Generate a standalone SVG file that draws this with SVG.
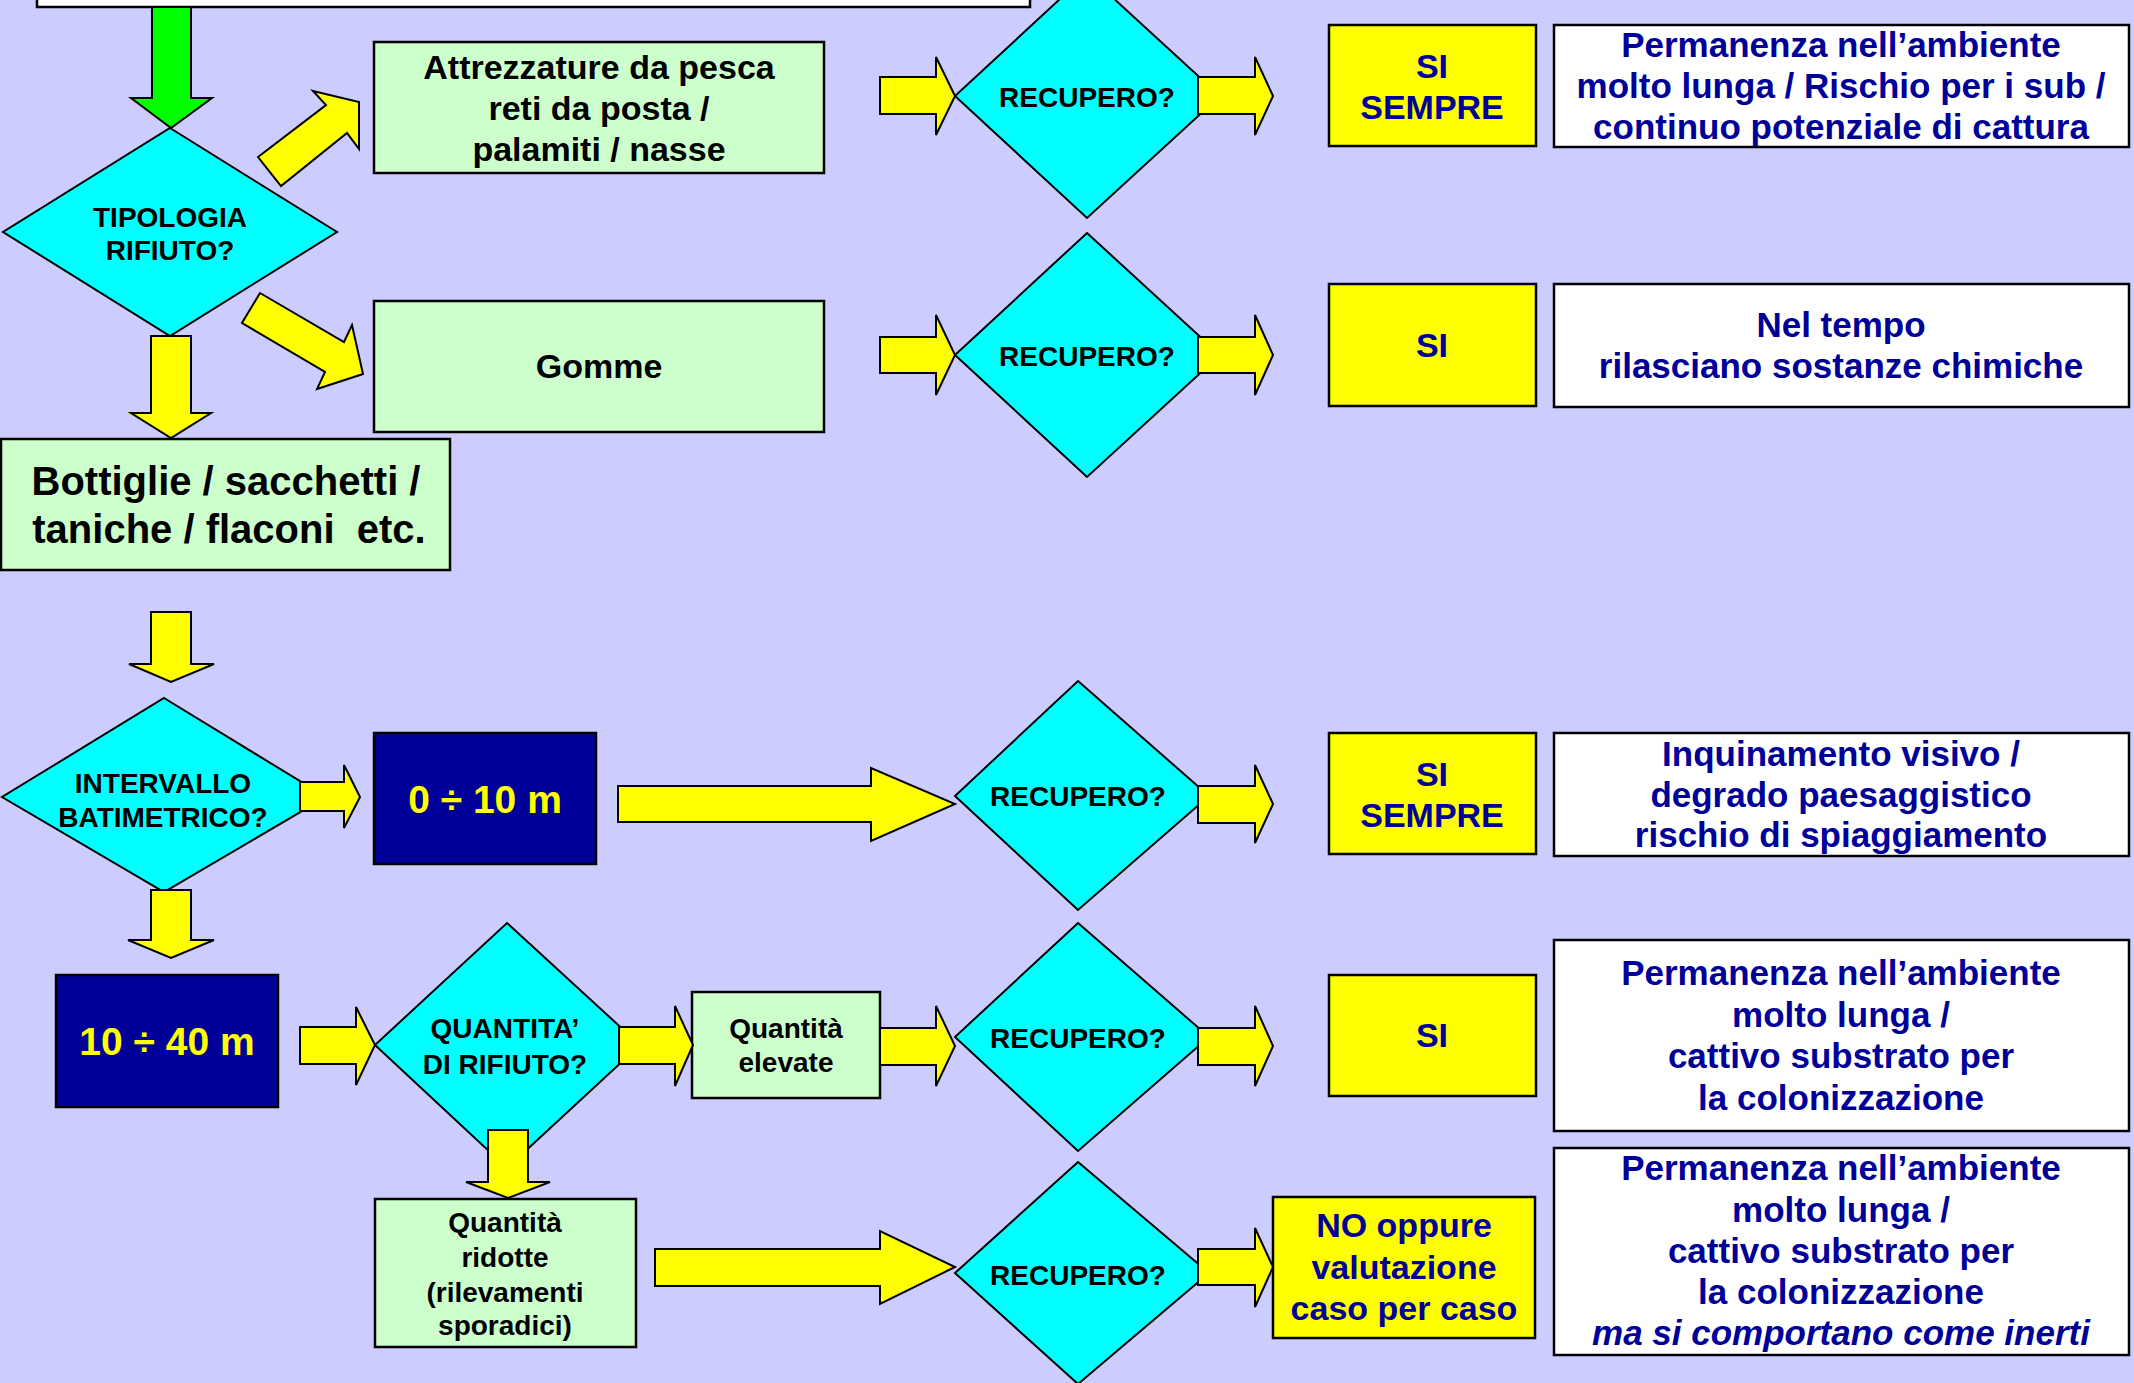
<svg xmlns="http://www.w3.org/2000/svg" width="2134" height="1383" viewBox="0 0 2134 1383">
<style>
.bg{fill:#CCCCFF}
.g{fill:#CCFFCC;stroke:#000;stroke-width:2.5}
.w{fill:#FFFFFF;stroke:#000;stroke-width:2.5}
.y{fill:#FFFF00;stroke:#000;stroke-width:2.5}
.n{fill:#000099;stroke:#000;stroke-width:2.5}
.d{fill:#00FFFF;stroke:#000;stroke-width:2}
.ay{fill:#FFFF00;stroke:#000;stroke-width:2;stroke-linejoin:miter}
.ag{fill:#00FF00;stroke:#000;stroke-width:2}
text{font-family:"Liberation Sans",Arial,Helvetica,sans-serif;font-weight:bold;text-anchor:middle}
.k{fill:#000}
.b{fill:#000099}
.yt{fill:#FFFF00}
.f28{font-size:28px}
.f34{font-size:34px}
.f35{font-size:35px}
.f40{font-size:40px}
.f39{font-size:39px}
</style>
<rect class="bg" x="0" y="0" width="2134" height="1383"/>

<g id="top-box"><rect class="w" x="37" y="-20" width="993" height="27"/></g>

<g id="tipologia"><polygon class="d" points="170,128 337,232 170,336 3,232"/>
<text class="k f28" x="170" y="227">TIPOLOGIA</text><text class="k f28" x="170" y="260">RIFIUTO?</text></g>

<g id="attrezzature"><rect class="g" x="374" y="42" width="450" height="131"/>
<text class="k f34" x="599" y="79">Attrezzature da pesca</text>
<text class="k f34" x="599" y="120">reti da posta /</text>
<text class="k f34" x="599" y="161">palamiti / nasse</text></g>

<g id="gomme"><rect class="g" x="374" y="301" width="450" height="131"/>
<text class="k f34" x="599" y="378">Gomme</text></g>

<g id="bottiglie"><rect class="g" x="1" y="439" width="449" height="131"/>
<text class="k f40" x="226" y="495">Bottiglie / sacchetti /</text>
<text class="k f40" x="229" y="543" style="white-space:pre">taniche / flaconi  etc.</text></g>

<g id="intervallo"><polygon class="d" points="164,698 326,797 164,892 2,797"/>
<text class="k f28" x="163" y="793">INTERVALLO</text><text class="k f28" x="163" y="827">BATIMETRICO?</text></g>

<g id="r0-10"><rect class="n" x="374" y="733" width="222" height="131"/>
<text class="yt f39" x="485" y="813">0 ÷ 10 m</text></g>

<g id="r10-40"><rect class="n" x="56" y="975" width="222" height="132"/>
<text class="yt f39" x="167" y="1055">10 ÷ 40 m</text></g>

<g id="quantita"><polygon class="d" points="507,923 640,1045 507,1168 375,1045"/>
<text class="k f28" x="505" y="1038">QUANTITA’</text><text class="k f28" x="505" y="1074">DI RIFIUTO?</text></g>

<g id="elevate"><rect class="g" x="692" y="992" width="188" height="106"/>
<text class="k f28" x="786" y="1038">Quantità</text><text class="k f28" x="786" y="1072">elevate</text></g>

<g id="ridotte"><rect class="g" x="375" y="1199" width="261" height="148"/>
<text class="k f28" x="505" y="1232">Quantità</text><text class="k f28" x="505" y="1267">ridotte</text>
<text class="k f28" x="505" y="1302">(rilevamenti</text><text class="k f28" x="505" y="1335">sporadici)</text></g>

<g id="recupero1"><polygon class="d" points="1087,-26 1220,96 1087,218 955,96"/>
<text class="k f28" x="1087" y="107">RECUPERO?</text></g>
<g id="recupero2"><polygon class="d" points="1087,233 1220,355 1087,477 955,355"/>
<text class="k f28" x="1087" y="366">RECUPERO?</text></g>
<g id="recupero3"><polygon class="d" points="1078,681 1209,796 1078,910 955,796"/>
<text class="k f28" x="1078" y="806">RECUPERO?</text></g>
<g id="recupero4"><polygon class="d" points="1078,923 1209,1037 1078,1151 955,1037"/>
<text class="k f28" x="1078" y="1048">RECUPERO?</text></g>
<g id="recupero5"><polygon class="d" points="1078,1162 1209,1273 1078,1384 955,1273"/>
<text class="k f28" x="1078" y="1285">RECUPERO?</text></g>

<g id="si1"><rect class="y" x="1329" y="25" width="207" height="121"/>
<text class="b f34" x="1432" y="78">SI</text><text class="b f34" x="1432" y="119">SEMPRE</text></g>
<g id="si2"><rect class="y" x="1329" y="284" width="207" height="122"/>
<text class="b f34" x="1432" y="357">SI</text></g>
<g id="si3"><rect class="y" x="1329" y="733" width="207" height="121"/>
<text class="b f34" x="1432" y="786">SI</text><text class="b f34" x="1432" y="827">SEMPRE</text></g>
<g id="si4"><rect class="y" x="1329" y="975" width="207" height="121"/>
<text class="b f34" x="1432" y="1047">SI</text></g>
<g id="no"><rect class="y" x="1273" y="1197" width="262" height="141"/>
<text class="b f34" x="1404" y="1237">NO oppure</text><text class="b f34" x="1404" y="1279">valutazione</text><text class="b f34" x="1404" y="1320">caso per caso</text></g>

<g id="note1"><rect class="w" x="1554" y="25" width="575" height="122"/>
<text class="b f35" x="1841" y="57">Permanenza nell’ambiente</text>
<text class="b f35" x="1841" y="98">molto lunga / Rischio per i sub /</text>
<text class="b f35" x="1841" y="139">continuo potenziale di cattura</text></g>
<g id="note2"><rect class="w" x="1554" y="284" width="575" height="123"/>
<text class="b f35" x="1841" y="337">Nel tempo</text>
<text class="b f35" x="1841" y="378">rilasciano sostanze chimiche</text></g>
<g id="note3"><rect class="w" x="1554" y="733" width="575" height="123"/>
<text class="b f35" x="1841" y="766">Inquinamento visivo /</text>
<text class="b f35" x="1841" y="807">degrado paesaggistico</text>
<text class="b f35" x="1841" y="847">rischio di spiaggiamento</text></g>
<g id="note4"><rect class="w" x="1554" y="940" width="575" height="191"/>
<text class="b f35" x="1841" y="985">Permanenza nell’ambiente</text>
<text class="b f35" x="1841" y="1027">molto lunga /</text>
<text class="b f35" x="1841" y="1068">cattivo substrato per</text>
<text class="b f35" x="1841" y="1110">la colonizzazione</text></g>
<g id="note5"><rect class="w" x="1554" y="1148" width="575" height="207"/>
<text class="b f35" x="1841" y="1180">Permanenza nell’ambiente</text>
<text class="b f35" x="1841" y="1222">molto lunga /</text>
<text class="b f35" x="1841" y="1263">cattivo substrato per</text>
<text class="b f35" x="1841" y="1304">la colonizzazione</text>
<text class="b f35" x="1841" y="1345" font-style="italic">ma si comportano come inerti</text></g>

<g id="connectors">
<polygon class="ag" points="152,7 191,7 191,98 212,98 171,128 131,98 152,98"/>
<polygon class="ay" points="258,157 326,105 313,91 359,102 359,149 347,133 281,186"/>
<polygon class="ay" points="260,293 344,342 352,325 363,374 317,389 325,372 242,323"/>
<polygon class="ay" points="151,336 191,336 191,413 211,413 171,438 131,413 151,413"/>
<polygon class="ay" points="151,612 191,612 191,664 214,664 171,682 129,664 151,664"/>
<polygon class="ay" points="151,890 191,890 191,940 214,940 171,958 128,940 151,940"/>
<polygon class="ay" points="300,782 344,782 344,765 360,797 344,828 344,811 300,811"/>
<polygon class="ay" points="618,786 871,786 871,768 955,804 871,841 871,822 618,822"/>
<polygon class="ay" points="880,77 936,77 936,57 955,96 936,135 936,114 880,114"/>
<polygon class="ay" points="1198,77 1255,77 1255,57 1273,96 1255,135 1255,114 1198,114"/>
<polygon class="ay" points="880,337 936,337 936,315 955,355 936,395 936,373 880,373"/>
<polygon class="ay" points="1198,337 1255,337 1255,315 1273,355 1255,395 1255,373 1198,373"/>
<polygon class="ay" points="1198,786 1255,786 1255,765 1273,804 1255,843 1255,823 1198,823"/>
<polygon class="ay" points="300,1027 356,1027 356,1007 375,1045 356,1085 356,1064 300,1064"/>
<polygon class="ay" points="619,1027 675,1027 675,1006 693,1045 675,1086 675,1064 619,1064"/>
<polygon class="ay" points="880,1028 936,1028 936,1006 955,1046 936,1086 936,1065 880,1065"/>
<polygon class="ay" points="1198,1028 1255,1028 1255,1006 1273,1046 1255,1086 1255,1065 1198,1065"/>
<polygon class="ay" points="488,1130 528,1130 528,1182 550,1182 508,1198 466,1182 488,1182"/>
<polygon class="ay" points="655,1249 880,1249 880,1231 955,1267 880,1304 880,1286 655,1286"/>
<polygon class="ay" points="1198,1249 1255,1249 1255,1228 1273,1267 1255,1307 1255,1285 1198,1285"/>
</g>
</svg>
